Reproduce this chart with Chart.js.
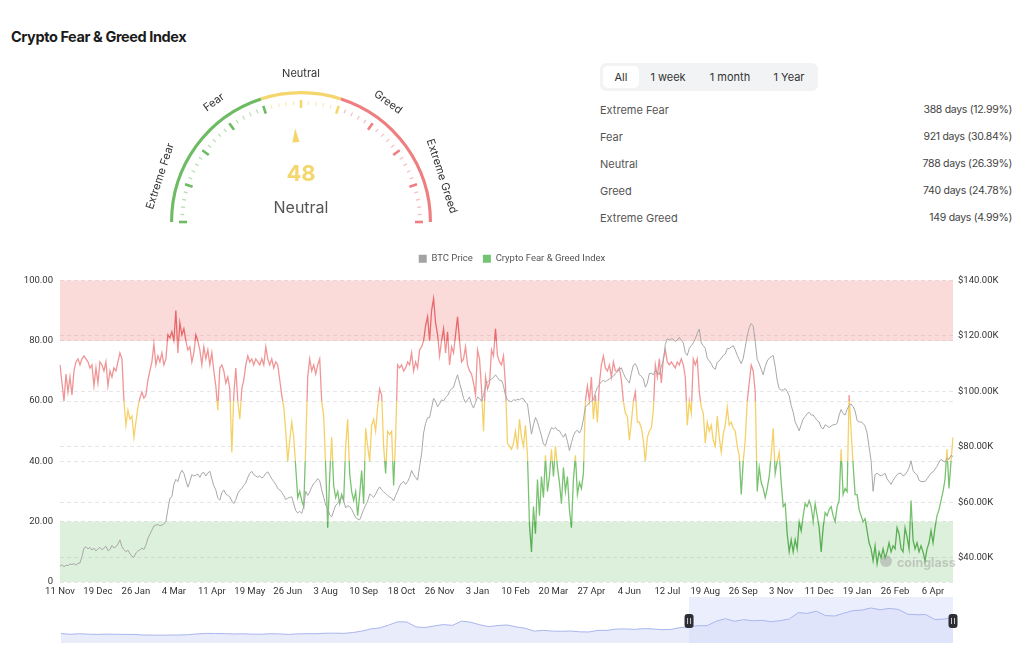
<!DOCTYPE html>
<html lang="en">
<head>
<meta charset="UTF-8">
<title>Crypto Fear &amp; Greed Index</title>
<script src="https://cdn.jsdelivr.net/npm/chart.js@4.4.1/dist/chart.umd.min.js"></script>
<style>
  body { margin: 0; width: 1024px; height: 664px; background: #fff; position: relative; overflow: hidden;
         font-family: Inter, "Noto Sans", sans-serif; }
  h1 { position: absolute; left: 11px; top: 27px; margin: 0; font-size: 14.5px; line-height: 20px; font-weight: 700;
       color: #1b1b1b; letter-spacing: -0.4px; }
  #gaugeWrap { position: absolute; left: 131px; top: 40px; }
  .tabs { position: absolute; left: 600px; top: 63px; width: 218px; height: 28px; background: #f2f3f5; border-radius: 6px; }
  .tab { position: absolute; top: 3px; height: 22px; line-height: 22px; font-size: 11px; color: #333; text-align: center; }
  .tab.on { background: #fff; border-radius: 5px; }
  .row { position: absolute; left: 600px; width: 412px; height: 16px; line-height: 16px; font-size: 11px; color: #555; }
  .row span { position: absolute; right: 0; top: 0; color: #444; font-size: 10.5px; letter-spacing: -0.3px; }
  #mainWrap { position: absolute; left: 0; top: 239px; }
  #navWrap { position: absolute; left: 0; top: 595px; }
</style>
</head>
<body>
  <h1>Crypto Fear &amp; Greed Index</h1>

  <div id="gaugeWrap"><canvas id="gauge" width="340" height="200"></canvas></div>

  <div class="tabs">
    <div class="tab on" style="left:3px;width:36px">All</div>
    <div class="tab" style="left:46px;width:44px">1 week</div>
    <div class="tab" style="left:102px;width:56px">1 month</div>
    <div class="tab" style="left:166px;width:46px">1 Year</div>
  </div>
  <div id="stats"></div>

  <div id="mainWrap"><canvas id="main" width="1024" height="363"></canvas></div>
  <div id="navWrap"><canvas id="nav" width="1024" height="50"></canvas></div>

<script>
// ---- gauge ----
const gaugeValue = 48;
const gaugeText = 'Neutral';
const gaugeZones = [40, 20, 40];              // fear / neutral / greed spans
const gaugeColors = ['#6dbb63', '#f5d66d', '#ee7e80'];
const gaugeLabels = ['Extreme Fear', 'Fear', 'Neutral', 'Greed', 'Extreme Greed'];
const gaugeLabelAt = [10, 30, 50, 70, 90];

// ---- stats ----
const statNames = ['Extreme Fear', 'Fear', 'Neutral', 'Greed', 'Extreme Greed'];
const statDays = [388, 921, 788, 740, 149];
const statPct = ['12.99%', '30.84%', '26.39%', '24.78%', '4.99%'];

// ---- main chart (one point every 2 days from 11 Nov) ----
const xTicks = ['11 Nov', '19 Dec', '26 Jan', '4 Mar', '11 Apr', '19 May', '26 Jun', '3 Aug', '10 Sep', '18 Oct',
  '26 Nov', '3 Jan', '10 Feb', '20 Mar', '27 Apr', '4 Jun', '12 Jul', '19 Aug', '26 Sep', '3 Nov', '11 Dec',
  '19 Jan', '26 Feb', '6 Apr'];
const tickEvery = 19;

const fearGreed = [
  72,66,60,69,63,68,62,70,73,74,72,74,75,74,73,71,72,65,71,66,
  73,72,70,73,65,70,68,71,70,73,76,74,60,52,57,54,55,48,53,58,
  61,63,61,62,67,70,73,79,72,75,73,76,72,74,82,81,83,80,90,76,
  86,82,84,80,77,78,73,76,82,80,77,72,78,74,77,72,76,70,65,57,
  71,72,70,66,68,64,43,62,71,60,54,64,67,72,75,73,74,72,74,73,
  72,74,72,78,74,72,74,71,73,72,67,62,58,50,40,47,53,48,38,28,
  30,27,25,45,68,74,70,72,69,72,74,60,55,38,18,35,48,32,28,30,
  26,29,27,45,54,36,30,27,30,22,29,37,26,51,45,40,52,54,50,58,
  64,62,45,36,50,49,50,32,48,72,71,72,70,71,73,72,76,70,73,71,
  77,78,80,85,88,80,90,94,86,82,75,80,84,76,83,72,78,76,82,88,
  80,73,74,78,72,70,69,66,62,77,74,64,50,68,64,66,77,75,84,75,
  73,72,75,65,46,45,44,46,50,44,54,48,45,52,42,19,10,25,16,34,
  22,35,28,42,30,35,44,35,45,38,33,26,38,30,35,24,18,34,42,29,
  33,31,36,60,65,60,68,54,62,53,66,72,75,71,70,72,68,73,70,70,
  71,67,60,56,55,47,53,60,63,53,53,51,47,40,48,50,51,57,72,68,
  74,66,74,77,73,72,73,72,71,73,72,74,72,68,52,60,56,74,72,74,
  63,58,56,46,53,50,52,47,45,55,48,43,49,52,58,52,53,51,50,45,
  42,29,40,47,60,66,72,70,63,30,38,33,31,28,31,35,42,51,36,40,
  43,33,25,26,16,10,14,10,14,11,20,17,22,26,25,27,25,20,26,22,
  18,10,18,23,22,24,25,22,20,25,27,44,29,31,30,62,50,39,29,29,
  24,22,20,21,17,13,11,7,12,6,10,8,11,8,10,13,10,12,11,18,
  16,11,10,18,15,11,27,14,11,13,10,12,10,7,11,13,17,13,18,22,
  24,27,30,34,44,31,40,48
];

// BTC price, thousands of USD
const btcPrice = [
  37.0,37.5,36.8,37.4,37.2,37.8,37.6,37.9,37.4,38.0,38.2,40.5,43.5,44.0,43.2,43.8,42.8,43.5,42.5,43.3,
  43.8,42.9,43.5,44.2,42.6,43.0,44.5,43.6,44.0,45.0,46.5,44.0,43.0,42.2,42.8,41.5,40.6,40.2,41.8,42.5,
  42.9,43.5,43.0,44.6,47.0,48.5,50.0,51.5,51.8,52.0,51.6,51.8,52.2,53.0,57.5,61.5,62.0,66.5,68.3,67.5,
  70.0,71.6,70.5,68.0,65.5,67.5,70.0,69.5,69.8,70.2,69.0,70.5,70.8,69.5,70.6,71.2,68.5,66.0,64.5,61.5,
  60.8,63.5,64.5,63.0,62.5,62.0,60.5,59.6,61.0,63.2,64.4,65.0,66.2,67.0,69.0,70.5,71.2,70.0,69.5,69.0,
  69.6,68.8,69.3,70.5,71.0,69.8,68.5,67.5,66.5,65.0,64.5,63.6,62.5,61.0,61.5,61.8,62.0,59.5,57.0,56.2,
  56.8,56.0,58.5,64.0,62.5,63.8,65.5,66.8,67.5,68.6,67.8,64.5,61.8,59.0,58.0,55.5,54.8,57.0,59.0,59.6,
  61.0,62.0,60.5,58.0,58.8,58.5,57.5,56.0,54.5,54.0,53.7,55.5,57.5,59.0,60.5,63.0,62.5,61.8,63.0,64.5,
  65.6,64.5,63.8,63.2,62.5,62.0,61.5,60.5,62.5,64.0,66.0,67.0,67.5,66.5,67.5,69.0,71.5,70.0,69.0,68.0,
  73.0,77.5,85.0,88.5,90.5,90.6,94.0,97.5,96.5,94.5,95.5,97.0,96.5,97.8,98.5,100.0,101.0,101.5,104.0,106.0,
  103.0,100.5,97.5,96.0,97.0,98.0,95.5,94.0,96.0,98.0,97.5,96.5,98.5,102.0,103.5,104.0,104.5,105.0,106.0,105.0,
  104.0,104.0,102.0,98.5,97.0,96.5,96.3,97.0,96.8,97.2,97.0,97.5,97.3,96.0,95.5,90.0,84.6,88.0,90.6,89.0,
  86.5,84.0,81.0,80.5,83.0,85.0,87.0,86.5,87.0,86.0,85.8,84.5,83.5,84.8,82.0,78.7,81.5,84.0,85.5,86.0,
  85.0,86.5,90.0,94.5,95.0,96.0,96.5,97.0,99.5,101.5,102.5,103.5,104.0,103.5,104.0,104.5,105.0,105.5,106.5,107.0,
  108.0,108.5,106.5,105.0,104.0,103.0,106.5,109.5,110.0,108.5,106.0,105.5,104.5,101.5,103.0,106.5,106.5,106.0,107.5,107.0,
  106.0,109.0,111.0,117.0,119.0,118.5,119.0,118.8,118.0,118.5,119.5,118.5,117.5,114.0,113.0,115.5,116.5,117.5,119.0,121.0,
  122.5,117.5,116.5,115.5,112.0,111.0,110.0,108.5,108.0,110.5,111.0,112.0,113.0,113.5,115.5,115.5,116.0,116.5,115.0,113.0,
  111.5,110.0,112.0,116.0,120.0,123.0,124.5,123.5,118.0,111.5,110.0,108.0,106.0,109.0,111.0,112.0,112.5,113.0,109.0,104.0,
  101.0,100.5,100.5,101.0,100.0,98.5,95.0,92.5,89.0,87.5,85.8,88.0,90.0,91.0,92.0,92.5,91.5,91.5,90.5,89.5,
  89.0,87.0,86.5,88.0,87.5,87.0,87.5,88.0,88.0,88.5,91.5,93.5,92.0,91.5,93.5,95.0,95.5,94.5,93.0,89.5,
  89.0,89.0,88.5,87.5,85.0,80.0,75.0,64.0,70.0,70.5,70.0,69.5,70.0,70.5,68.5,67.5,66.5,68.0,69.0,70.0,
  70.5,70.5,69.5,70.0,71.0,72.5,75.0,71.5,70.5,70.0,68.0,67.5,67.5,67.5,68.5,69.5,70.5,71.0,72.0,73.0,
  74.5,75.5,75.0,74.5,76.0,75.5,77.0,76.5
];

const fgTicks = [0, 20, 40, 60, 80, 100];
const btcTicks = [40, 60, 80, 100, 120, 140];
const btcMin = 31.3, btcMax = 140;
const bandFrom = [0, 80];
const bandTo = [20, 100];
const bandColors = ['rgba(120,196,110,0.25)', 'rgba(240,120,120,0.27)'];
const lineStops = [0, 20, 40, 60, 80, 100];
const lineColors = ['#5aae55', '#78c270', '#f4d167', '#f19495', '#e8686a'];

// ---- navigator (monthly BTC since Feb 2018, thousands USD) ----
const navBtc = [
  10.3, 7.0, 9.2, 7.5, 6.4, 7.7, 7.0, 6.6, 6.3, 4.0, 3.7,
  3.4, 3.8, 4.1, 5.3, 8.6, 10.8, 10.1, 9.6, 8.3, 9.2, 7.6, 7.2,
  9.4, 8.6, 6.4, 8.7, 9.5, 9.1, 11.3, 11.7, 10.8, 13.8, 19.7, 29.0,
  33.1, 45.2, 58.8, 57.7, 37.3, 35.0, 41.5, 47.1, 43.8, 61.3, 57.0, 46.3,
  38.5, 43.2, 45.5, 37.7, 31.8, 19.9, 23.3, 20.0, 19.4, 20.5, 17.2, 16.5,
  23.1, 23.1, 28.5, 29.2, 27.2, 30.5, 29.2, 26.0, 27.0, 34.6, 37.7, 42.3,
  42.6, 61.2, 71.3, 60.6, 67.5, 62.7, 64.6, 59.0, 63.3, 70.2, 96.4, 93.4,
  102.4, 84.3, 82.5, 94.2, 104.6, 107.1, 115.7, 108.2, 114.0, 109.6, 90.4, 87.5,
  88.5, 68.0, 70.0, 76.5
];
const navStart = 69;   // Nov 2023, first month shown in the main chart

const axisFont = { family: 'Roboto, "Noto Sans", sans-serif', size: 9.5 };

// stats table
document.getElementById('stats').innerHTML = statNames.map((n, i) =>
  `<div class="row" style="top:${102 + i * 27}px">${n}<span>${statDays[i]} days (${statPct[i]})</span></div>`).join('');

Chart.defaults.font.family = 'Inter, "Noto Sans", sans-serif';
Chart.defaults.animation = false;

// ---------- gauge ----------
const gaugeDecor = {
  id: 'gaugeDecor',
  afterDatasetsDraw(chart) {
    const arc = chart.getDatasetMeta(0).data[0];
    const cx = arc.x, cy = arc.y, R = arc.outerRadius;
    const ctx = chart.ctx;
    const ang = v => Math.PI + v / 100 * Math.PI;
    const col = v => v <= gaugeZones[0] ? gaugeColors[0] : v <= gaugeZones[0] + gaugeZones[1] ? gaugeColors[1] : gaugeColors[2];
    ctx.save();
    for (let v = 0; v <= 100; v += 2) {
      const major = v % 10 === 0;
      const a = ang(v);
      const r1 = major ? R - 17 : R - 14, r2 = major ? R - 9 : R - 10;
      ctx.strokeStyle = col(v);
      ctx.globalAlpha = major ? 1 : 0.5;
      ctx.lineWidth = major ? 2.6 : 1.2;
      ctx.beginPath();
      ctx.moveTo(cx + r1 * Math.cos(a), cy + r1 * Math.sin(a));
      ctx.lineTo(cx + r2 * Math.cos(a), cy + r2 * Math.sin(a));
      ctx.stroke();
    }
    ctx.globalAlpha = 1;
    // pointer
    const a = ang(gaugeValue), tip = R - 37, base = R - 51, hw = 3.6;
    const px = -Math.sin(a), py = Math.cos(a);
    ctx.fillStyle = col(gaugeValue);
    ctx.beginPath();
    ctx.moveTo(cx + tip * Math.cos(a), cy + tip * Math.sin(a));
    ctx.lineTo(cx + base * Math.cos(a) + hw * px, cy + base * Math.sin(a) + hw * py);
    ctx.lineTo(cx + base * Math.cos(a) - hw * px, cy + base * Math.sin(a) - hw * py);
    ctx.closePath();
    ctx.fill();
    // zone labels
    ctx.font = '11px Inter, "Noto Sans", sans-serif';
    ctx.fillStyle = '#333';
    ctx.textAlign = 'center';
    ctx.textBaseline = 'middle';
    gaugeLabels.forEach((t, i) => {
      const la = ang(gaugeLabelAt[i]);
      ctx.save();
      ctx.translate(cx + (R + 17) * Math.cos(la), cy + (R + 17) * Math.sin(la));
      ctx.rotate(la + Math.PI / 2);
      ctx.fillText(t, 0, 0);
      ctx.restore();
    });
    // value
    ctx.fillStyle = col(gaugeValue);
    ctx.font = '700 22px Inter, "Noto Sans", sans-serif';
    ctx.fillText(String(gaugeValue), cx, cy - 48);
    ctx.fillStyle = '#555';
    ctx.font = '16px Inter, "Noto Sans", sans-serif';
    ctx.fillText(gaugeText, cx, cy - 14);
    ctx.restore();
  }
};

new Chart(document.getElementById('gauge'), {
  type: 'doughnut',
  data: { labels: ['Fear', 'Neutral', 'Greed'],
          datasets: [{ data: gaugeZones, backgroundColor: gaugeColors, borderWidth: 0 }] },
  options: {
    responsive: false,
    rotation: -90, circumference: 180, radius: 131, cutout: '97.6%',
    layout: { padding: { top: 33, bottom: 0 } },
    plugins: { legend: { display: false }, tooltip: { enabled: false } },
    events: []
  },
  plugins: [gaugeDecor]
});

// ---------- main chart ----------
const labels = fearGreed.map((_, i) => i % tickEvery === 0 ? (xTicks[i / tickEvery] || '') : '');

const bands = {
  id: 'bands',
  beforeDatasetsDraw(chart) {
    const { ctx, chartArea: a, scales } = chart;
    const y = scales.yFG;
    ctx.save();
    bandFrom.forEach((f, i) => {
      const top = y.getPixelForValue(bandTo[i]), bot = y.getPixelForValue(f);
      ctx.fillStyle = bandColors[i];
      ctx.fillRect(a.left, top, a.right - a.left, bot - top);
    });
    // watermark
    ctx.fillStyle = 'rgba(150,150,150,0.45)';
    ctx.beginPath();
    ctx.arc(a.right - 67, a.bottom - 21, 6, 0, Math.PI * 2);
    ctx.fill();
    ctx.font = '700 12.5px Inter, "Noto Sans", sans-serif';
    ctx.textAlign = 'left';
    ctx.textBaseline = 'middle';
    ctx.fillText('coinglass', a.right - 56, a.bottom - 19);
    ctx.restore();
  }
};

const legendGap = {
  id: 'legendGap',
  beforeInit(chart) {
    const fit = chart.legend.fit;
    chart.legend.fit = function () { fit.call(this); this.height += 7; };
  }
};

function fgColor(c) {
  const { chart } = c;
  const area = chart.chartArea;
  if (!area) return lineColors[2];
  const y = chart.scales.yFG;
  const top = y.getPixelForValue(100), bot = y.getPixelForValue(0);
  const g = chart.ctx.createLinearGradient(0, bot, 0, top);
  lineColors.forEach((col, i) => {
    g.addColorStop(lineStops[i] / 100, col);
    g.addColorStop(Math.min(lineStops[i + 1] / 100 - 0.0001, 1), col);
  });
  return g;
}

new Chart(document.getElementById('main'), {
  type: 'line',
  data: {
    labels,
    datasets: [
      { label: 'BTC Price', data: btcPrice, yAxisID: 'yBTC', borderColor: '#a8a8a8', backgroundColor: '#a3a3a3',
        borderWidth: 1, pointRadius: 0, tension: 0 },
      { label: 'Crypto Fear & Greed Index', data: fearGreed, yAxisID: 'yFG', borderColor: fgColor,
        backgroundColor: '#72c472', borderWidth: 1.3, pointRadius: 0, tension: 0 }
    ]
  },
  options: {
    responsive: false,
    layout: { padding: { top: 5, left: 0, right: 0, bottom: 0 } },
    events: [],
    plugins: {
      tooltip: { enabled: false },
      legend: {
        position: 'top',
        labels: {
          boxWidth: 8, boxHeight: 8, padding: 10, color: '#555', font: { family: axisFont.family, size: 9.5 },
          generateLabels(chart) {
            return chart.data.datasets.map((d, i) => ({
              text: d.label, fillStyle: d.backgroundColor, strokeStyle: d.backgroundColor,
              lineWidth: 0, hidden: false, datasetIndex: i, fontColor: '#555'
            }));
          }
        }
      }
    },
    scales: {
      x: {
        grid: { display: false, drawTicks: false },
        border: { display: false },
        ticks: { autoSkip: false, maxRotation: 0, padding: 4, color: '#333', font: axisFont,
                 callback(v, i) { return labels[i] || null; } },
        afterFit(s) { s.height = 20; }
      },
      yFG: {
        position: 'left', min: 0, max: 100,
        afterBuildTicks(s) { s.ticks = fgTicks.map(v => ({ value: v })); },
        grid: { color: '#e6e6e6', drawTicks: false },
        border: { display: false, dash: [4, 3] },
        ticks: { padding: 7, color: '#333', font: axisFont,
                 callback: v => v === 0 ? '0' : v.toFixed(2) },
        afterFit(s) { s.width = 60; }
      },
      yBTC: {
        position: 'right', min: btcMin, max: btcMax,
        afterBuildTicks(s) { s.ticks = btcTicks.map(v => ({ value: v })); },
        grid: { color: '#e6e6e6', drawTicks: false },
        border: { display: false, dash: [4, 3] },
        ticks: { padding: 5, color: '#333', font: axisFont,
                 callback: v => '$' + v.toFixed(2) + 'K' },
        afterFit(s) { s.width = 71; }
      }
    }
  },
  plugins: [bands, legendGap]
});

// ---------- navigator ----------
const navDecor = {
  id: 'navDecor',
  beforeDatasetsDraw(chart) {
    const { ctx, chartArea: a, scales } = chart;
    const x0 = scales.x.getPixelForValue(navStart);
    ctx.save();
    ctx.fillStyle = 'rgba(205,214,250,0.4)';
    ctx.fillRect(x0, a.top, a.right - x0, a.bottom - a.top);
    ctx.restore();
  },
  afterDatasetsDraw(chart) {
    const { ctx, chartArea: a, scales } = chart;
    const xs = [scales.x.getPixelForValue(navStart), a.right];
    const cy = a.top + 24;
    ctx.save();
    xs.forEach(x => {
      ctx.fillStyle = '#2e2f34';
      ctx.beginPath();
      ctx.roundRect(x - 4.5, cy - 7, 9, 14, 3);
      ctx.fill();
      ctx.strokeStyle = '#c8c8cc';
      ctx.lineWidth = 1;
      ctx.beginPath();
      ctx.moveTo(x - 1.5, cy - 3); ctx.lineTo(x - 1.5, cy + 3);
      ctx.moveTo(x + 1.5, cy - 3); ctx.lineTo(x + 1.5, cy + 3);
      ctx.stroke();
    });
    ctx.restore();
  }
};

new Chart(document.getElementById('nav'), {
  type: 'line',
  data: {
    labels: navBtc.map((_, i) => i),
    datasets: [{ data: navBtc, borderColor: '#a9b6ec', borderWidth: 1, pointRadius: 0, tension: 0,
                 fill: 'start', backgroundColor: 'rgba(214,221,248,0.55)' }]
  },
  options: {
    responsive: false,
    events: [],
    layout: { padding: { left: 61, right: 71, top: 2, bottom: 2 } },
    plugins: { legend: { display: false }, tooltip: { enabled: false } },
    scales: {
      x: { display: false },
      y: { display: false, min: -29, max: 161 }
    }
  },
  plugins: [navDecor]
});
</script>
</body>
</html>
